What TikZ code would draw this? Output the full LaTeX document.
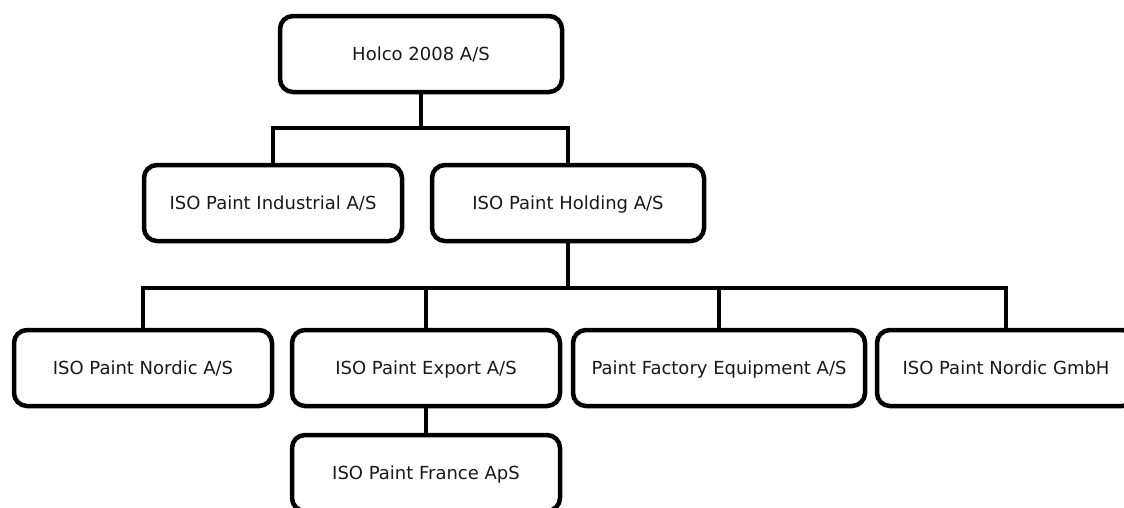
\documentclass[tikz,border=0pt]{standalone}
\usepackage{fontspec}
\setmainfont{DejaVu Sans}
\begin{document}
\begin{tikzpicture}[x=1pt,y=-1pt,
  orgbox/.style={draw=black, line width=4.5pt, rounded corners=13pt, fill=white,
    minimum height=76pt, inner sep=0pt, text height=15pt, text depth=3pt,
    font=\fontsize{18}{22}\selectfont, text=black!90},
  link/.style={draw=black, line width=4.5pt, line join=miter}]
\useasboundingbox (0,0) rectangle (1124,507);
\begin{scope}
\clip (0,0) rectangle (1124,507);
% nodes
\node[orgbox, minimum width=282pt] (holco) at (421,54) {Holco 2008 A/S};
\node[orgbox, minimum width=258pt] (ind) at (273,203) {ISO Paint Industrial A/S};
\node[orgbox, minimum width=272pt] (hold) at (568,203) {ISO Paint Holding A/S};
\node[orgbox, minimum width=258pt] (nordic) at (143,368) {ISO Paint Nordic A/S};
\node[orgbox, minimum width=268pt] (export) at (426,368) {ISO Paint Export A/S};
\node[orgbox, minimum width=292pt] (equip) at (719,368) {Paint Factory Equipment A/S};
\node[orgbox, minimum width=258pt] (gmbh) at (1006,368) {ISO Paint Nordic GmbH};
\node[orgbox, minimum width=268pt] (france) at (426,473) {ISO Paint France ApS};
% junction coordinates
\coordinate (j1) at (421,128);
\coordinate (j2) at (568,288);
% connectors
\draw[link] (holco.south) -- (j1);
\draw[link] (ind.north) -- (ind.north |- j1) -- (hold.north |- j1) -- (hold.north);
\draw[link] (hold.south) -- (j2);
\draw[link] (nordic.north) -- (nordic.north |- j2) -- (gmbh.north |- j2) -- (gmbh.north);
\draw[link] (export.north) -- (export.north |- j2);
\draw[link] (equip.north) -- (equip.north |- j2);
\draw[link] (export.south) -- (france.north);
\end{scope}
\end{tikzpicture}
\end{document}
